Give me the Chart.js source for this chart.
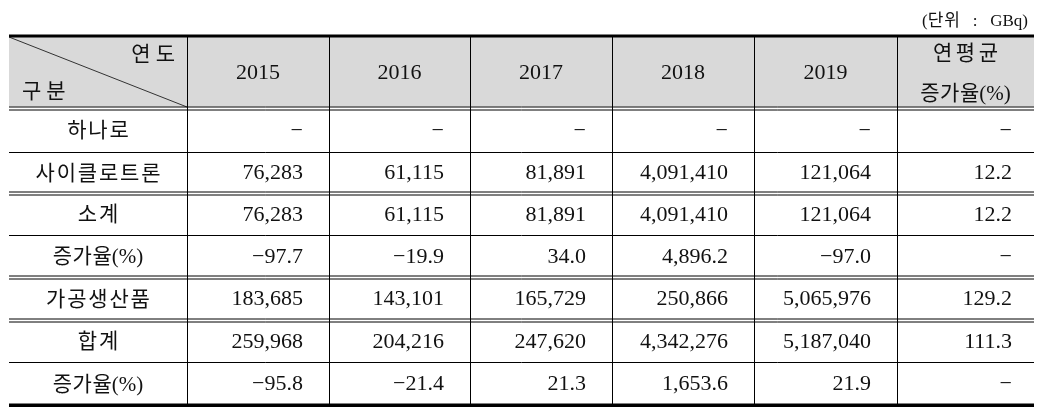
<!DOCTYPE html>
<html>
<head>
<meta charset="utf-8">
<script src="https://cdn.jsdelivr.net/npm/chart.js@4/dist/chart.umd.min.js"></script>
<style>
  html, body { margin: 0; background: #fff; }
  canvas { display: block; }
</style>
</head>
<body>
<canvas id="chart" width="1043" height="417"></canvas>
<script>
// table content
const unitNote = '(단위   :   GBq)';
const cornerTop = '연도';
const cornerBottom = '구분';
const years = ['2015', '2016', '2017', '2018', '2019'];
const cagrHeader = ['연평균', '증가율(%)'];
const rowLabels = ['하나로', '사이클로트론', '소계', '증가율(%)', '가공생산품', '합계', '증가율(%)'];

// values per row: 2015..2019, then average annual growth (%)
const hanaro = [null, null, null, null, null, null];
const cyclotron = [76283, 61115, 81891, 4091410, 121064, 12.2];
const subtotal = [76283, 61115, 81891, 4091410, 121064, 12.2];
const subtotalRate = [-97.7, -19.9, 34.0, 4896.2, -97.0, null];
const processed = [183685, 143101, 165729, 250866, 5065976, 129.2];
const total = [259968, 204216, 247620, 4342276, 5187040, 111.3];
const totalRate = [-95.8, -21.4, 21.3, 1653.6, 21.9, null];

const rows = [hanaro, cyclotron, subtotal, subtotalRate, processed, total, totalRate];
const rateRows = [3, 6];

// layout (table units = pixels inside the chart area)
const colEdges = [0, 178, 320, 461, 603, 745, 888, 1025];
const rowEdges = [0, 72, 116, 157, 199, 241, 284, 326, 369];
const doubleAfter = [0, 2, 4, 5]; // boundaries drawn as double rules (0 = header bottom)

function fmt(v, decimals) {
  if (v === null) return '\u2212';
  const s = Math.abs(v).toLocaleString('en-US', { minimumFractionDigits: decimals, maximumFractionDigits: decimals });
  return (v < 0 ? '\u2212' : '') + s;
}

const isHangul = ch => /[\uac00-\ud7a3]/.test(ch);

// draw text char by char, adding extra space between hangul syllables
function drawSpaced(ctx, text, x, y, align, spacing) {
  const chars = [...text];
  const gaps = chars.map((ch, i) => (i < chars.length - 1 && isHangul(ch) && isHangul(chars[i + 1])) ? spacing : 0);
  const widths = chars.map(ch => ctx.measureText(ch).width);
  const total = widths.reduce((a, b) => a + b, 0) + gaps.reduce((a, b) => a + b, 0);
  let cx = align === 'center' ? x - total / 2 : align === 'right' ? x - total : x;
  ctx.save();
  ctx.textAlign = 'left';
  chars.forEach((ch, i) => {
    ctx.fillText(ch, cx, y);
    cx += widths[i] + gaps[i];
  });
  ctx.restore();
}

// one point per body cell, anchored at the right edge of its cell
const cells = [];
rows.forEach((vals, r) => {
  vals.forEach((v, c) => {
    const decimals = (rateRows.includes(r) || c === 5) ? 1 : 0;
    cells.push({
      x: colEdges[c + 2],
      y: (rowEdges[r + 1] + rowEdges[r + 2]) / 2,
      text: fmt(v, decimals),
    });
  });
});

const tablePlugin = {
  id: 'table',
  beforeDatasetsDraw(chart) {
    const ctx = chart.ctx;
    const xs = chart.scales.x, ys = chart.scales.y;
    const X = v => xs.getPixelForValue(v);
    const Y = v => ys.getPixelForValue(v);
    const left = X(0), right = X(1025);

    ctx.save();
    // header background
    ctx.fillStyle = '#d9d9d9';
    ctx.fillRect(left, Y(0), right - left, Y(rowEdges[1]) - Y(0) - 1.5);

    // diagonal in corner cell
    ctx.strokeStyle = '#333';
    ctx.lineWidth = 1;
    ctx.beginPath();
    ctx.moveTo(X(0), Y(0) + 1);
    ctx.lineTo(X(colEdges[1]), Y(rowEdges[1]) - 1);
    ctx.stroke();

    ctx.strokeStyle = '#000';
    // vertical rules
    for (let i = 1; i < colEdges.length - 1; i++) {
      const px = Math.round(X(colEdges[i])) + 0.5;
      ctx.beginPath();
      ctx.moveTo(px, Y(0));
      ctx.lineTo(px, Y(369));
      ctx.stroke();
    }
    // horizontal rules
    for (let i = 1; i < rowEdges.length - 1; i++) {
      const py = Math.round(Y(rowEdges[i]));
      const offsets = doubleAfter.includes(i - 1) ? [-1, 2] : [0.5];
      offsets.forEach(o => {
        ctx.beginPath();
        ctx.moveTo(left, py + o);
        ctx.lineTo(right, py + o);
        ctx.stroke();
      });
    }
    // thick top and bottom rules
    ctx.fillStyle = '#000';
    ctx.fillRect(left, Y(0) - 1.5, right - left, 3);
    ctx.fillRect(left, Y(369) - 1.5, right - left, 3.5);

    // texts
    ctx.fillStyle = '#111';
    ctx.textBaseline = 'middle';
    const kor = "21px 'Liberation Serif', 'Noto Sans CJK KR'";
    const num = "22px 'Liberation Serif'";

    ctx.font = "17px 'Liberation Serif', 'Noto Sans CJK KR'";
    drawSpaced(ctx, unitNote, X(1019), Y(0) - 14, 'right', 1);

    ctx.font = kor;
    drawSpaced(ctx, cornerTop, X(colEdges[1]) - 12, Y(19), 'right', 5);
    drawSpaced(ctx, cornerBottom, X(13), Y(56), 'left', 5);

    const lastC = (X(colEdges[6]) + X(colEdges[7])) / 2;
    drawSpaced(ctx, cagrHeader[0], lastC, Y(18), 'center', 3.5);
    drawSpaced(ctx, cagrHeader[1], lastC, Y(58), 'center', 0.5);

    rowLabels.forEach((lab, r) => {
      const sp = lab.includes('%') ? 0.5 : 1.8;
      drawSpaced(ctx, lab, (X(colEdges[0]) + X(colEdges[1])) / 2, Y((rowEdges[r + 1] + rowEdges[r + 2]) / 2) + 1.5, 'center', sp);
    });

    ctx.font = num;
    ctx.textAlign = 'center';
    years.forEach((yr, i) => {
      ctx.fillText(yr, (X(colEdges[i + 1]) + X(colEdges[i + 2])) / 2, Y(37.5));
    });
    ctx.restore();
  },
  afterDatasetsDraw(chart) {
    const ctx = chart.ctx;
    const meta = chart.getDatasetMeta(0);
    ctx.save();
    ctx.fillStyle = '#111';
    ctx.font = "22px 'Liberation Serif'";
    ctx.textAlign = 'right';
    ctx.textBaseline = 'middle';
    meta.data.forEach((pt, i) => {
      const pad = cells[i].x === 1025 ? 22 : 26;
      ctx.fillText(cells[i].text, pt.x - pad, pt.y + 1);
    });
    ctx.restore();
  }
};

new Chart(document.getElementById('chart').getContext('2d'), {
  type: 'scatter',
  data: {
    datasets: [{
      data: cells,
      pointRadius: 0,
      pointHoverRadius: 0,
    }]
  },
  options: {
    responsive: false,
    animation: false,
    events: [],
    layout: { padding: { left: 9, right: 9, top: 36, bottom: 12 } },
    plugins: { legend: { display: false }, tooltip: { enabled: false } },
    scales: {
      x: { type: 'linear', min: 0, max: 1025, display: false },
      y: { type: 'linear', min: 0, max: 369, reverse: true, display: false },
    }
  },
  plugins: [tablePlugin]
});
</script>
</body>
</html>
